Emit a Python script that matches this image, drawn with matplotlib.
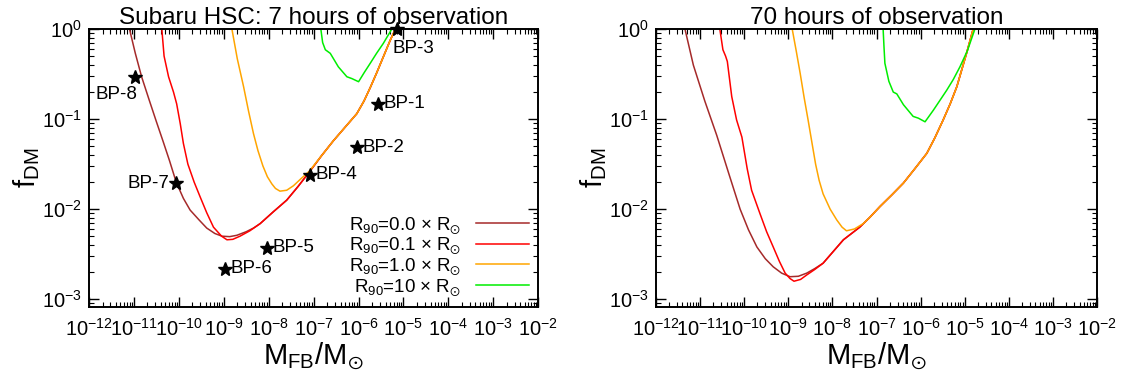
import numpy as np
import matplotlib
matplotlib.use("Agg")
import matplotlib.pyplot as plt
from matplotlib.ticker import FixedLocator, LogLocator, NullFormatter

plt.rcParams['font.family'] = ['Liberation Sans', 'DejaVu Sans']
plt.rcParams['mathtext.default'] = 'regular'

# curves, as log10(M_FB/M_sun) and log10(f_DM)
# --- 7 hours ---
logm7_r00 = [-11.10, -10.97, -10.83, -10.66, -10.50, -10.35, -10.21, -10.06, -9.90, -9.75,
             -9.55, -9.38, -9.20, -9.04, -8.87, -8.71, -8.50, -8.34, -8.19, -7.90, -7.60,
             -7.35, -7.10, -6.83, -6.56, -6.30, -6.04, -5.88, -5.74, -5.60, -5.45, -5.30, -5.18]
logf7_r00 = [0.0, -0.27, -0.53, -0.79, -1.03, -1.25, -1.46, -1.70, -1.88, -2.01,
             -2.12, -2.21, -2.27, -2.30, -2.305, -2.29, -2.25, -2.21, -2.16, -2.03, -1.90,
             -1.75, -1.59, -1.41, -1.24, -1.09, -0.94, -0.80, -0.65, -0.49, -0.31, -0.13, 0.0]

logm7_r01 = [-10.38, -10.33, -10.23, -10.12, -10.05, -9.97, -9.90, -9.80, -9.66, -9.53,
             -9.38, -9.23, -9.05, -8.93, -8.80, -8.64, -8.42, -8.19, -7.90, -7.60,
             -7.35, -7.10, -6.83, -6.56, -6.30, -6.04, -5.88, -5.74, -5.60, -5.45, -5.30, -5.18]
logf7_r01 = [0.0, -0.30, -0.53, -0.70, -0.83, -1.05, -1.27, -1.50, -1.70, -1.86,
             -2.04, -2.20, -2.30, -2.34, -2.335, -2.30, -2.24, -2.16, -2.03, -1.90,
             -1.75, -1.59, -1.41, -1.24, -1.09, -0.94, -0.80, -0.65, -0.49, -0.31, -0.13, 0.0]

logm7_r10 = [-8.82, -8.70, -8.56, -8.45, -8.34, -8.24, -8.13, -8.03, -7.93, -7.85, -7.75,
             -7.60, -7.45, -7.30, -7.10, -6.83, -6.56, -6.30, -6.04, -5.88, -5.74, -5.60,
             -5.45, -5.30, -5.18]
logf7_r10 = [0.0, -0.33, -0.64, -0.91, -1.16, -1.35, -1.52, -1.64, -1.72, -1.77, -1.80,
             -1.79, -1.74, -1.67, -1.58, -1.41, -1.24, -1.09, -0.94, -0.80, -0.65, -0.49,
             -0.31, -0.13, 0.0]

logm7_r100 = [-6.84, -6.80, -6.74, -6.63, -6.45, -6.26, -6.15, -6.00, -5.87, -5.74, -5.60, -5.45, -5.26]
logf7_r100 = [0.0, -0.15, -0.23, -0.27, -0.42, -0.53, -0.55, -0.585, -0.48, -0.38, -0.27, -0.16, 0.0]

# --- 70 hours ---
logm70_r00 = [-11.34, -11.15, -10.89, -10.62, -10.35, -10.09, -9.90, -9.71, -9.52, -9.34,
              -9.15, -8.96, -8.77, -8.58, -8.40, -8.21, -7.98, -7.75, -7.38, -7.15, -6.92,
              -6.65, -6.39, -6.13, -5.86, -5.68, -5.49, -5.33, -5.18, -4.96, -4.81]
logf70_r00 = [0.0, -0.40, -0.80, -1.18, -1.60, -2.00, -2.23, -2.42, -2.55, -2.64,
              -2.71, -2.75, -2.745, -2.71, -2.66, -2.60, -2.47, -2.34, -2.20, -2.09, -1.97,
              -1.84, -1.71, -1.55, -1.38, -1.21, -1.01, -0.83, -0.64, -0.27, 0.0]

logm70_r01 = [-10.55, -10.48, -10.42, -10.38, -10.28, -10.17, -10.05, -9.93, -9.83, -9.64,
              -9.49, -9.34, -9.20, -9.07, -8.96, -8.87, -8.72, -8.58, -8.40, -8.21, -7.98,
              -7.75, -7.38, -7.15, -6.92, -6.65, -6.39, -6.13, -5.86, -5.68, -5.49, -5.33,
              -5.18, -4.96, -4.81]
logf70_r01 = [0.0, -0.23, -0.30, -0.36, -0.75, -1.01, -1.20, -1.55, -1.79, -2.05,
              -2.25, -2.42, -2.58, -2.71, -2.77, -2.80, -2.78, -2.73, -2.67, -2.60, -2.47,
              -2.34, -2.20, -2.09, -1.97, -1.84, -1.71, -1.55, -1.38, -1.21, -1.01, -0.83,
              -0.64, -0.27, 0.0]

logm70_r10 = [-8.91, -8.82, -8.73, -8.64, -8.55, -8.46, -8.38, -8.30, -8.21, -8.05, -7.90,
              -7.78, -7.68, -7.50, -7.30, -7.15, -6.92, -6.65, -6.39, -6.13, -5.86, -5.68,
              -5.49, -5.33, -5.18, -4.96, -4.81]
logf70_r10 = [0.0, -0.24, -0.49, -0.76, -1.01, -1.27, -1.50, -1.68, -1.83, -2.00, -2.12,
              -2.20, -2.24, -2.22, -2.16, -2.09, -1.97, -1.84, -1.71, -1.55, -1.38, -1.21,
              -1.01, -0.83, -0.64, -0.27, 0.0]

logm70_r100 = [-6.85, -6.83, -6.81, -6.72, -6.62, -6.54, -6.39, -6.17, -6.05, -5.90, -5.71,
               -5.56, -5.41, -5.26, -5.11, -4.94, -4.77]
logf70_r100 = [0.0, -0.20, -0.38, -0.58, -0.70, -0.72, -0.84, -0.97, -0.99, -1.03, -0.90,
               -0.79, -0.68, -0.56, -0.42, -0.24, 0.0]

# benchmark points
bp_names = ['BP-1', 'BP-2', 'BP-3', 'BP-4', 'BP-5', 'BP-6', 'BP-7', 'BP-8']
bp_logm = [-5.56, -6.04, -5.15, -7.09, -8.04, -8.97, -10.06, -10.98]
bp_logf = [-0.83, -1.31, 0.0, -1.62, -2.43, -2.66, -1.71, -0.537]

labels = [r'$R_{90}$=0.0 $\times$ $R_{\odot}$', r'$R_{90}$=0.1 $\times$ $R_{\odot}$',
          r'$R_{90}$=1.0 $\times$ $R_{\odot}$', r'$R_{90}$=10 $\times$ $R_{\odot}$']
colors = ['#a52a2a', '#ff0000', '#ffa500', '#00ee00']

fig = plt.figure(figsize=(11.23, 3.85), dpi=100)
ax1 = fig.add_axes([0.0793, 0.2026, 0.400, 0.722])
ax2 = fig.add_axes([0.5840, 0.2026, 0.393, 0.722])

panels = [
    (ax1, [(logm7_r00, logf7_r00), (logm7_r01, logf7_r01), (logm7_r10, logf7_r10), (logm7_r100, logf7_r100)],
     'Subaru HSC: 7 hours of observation'),
    (ax2, [(logm70_r00, logf70_r00), (logm70_r01, logf70_r01), (logm70_r10, logf70_r10), (logm70_r100, logf70_r100)],
     '70 hours of observation'),
]

xdec = list(range(-12, -1))
ydec = [-3, -2, -1, 0]
for ax, curves, title in panels:
    for (lm, lf), c, lab in zip(curves, colors, labels):
        ax.plot(np.power(10.0, lm), np.power(10.0, lf), color=c, lw=1.1, label=lab)
    ax.set_xscale('log')
    ax.set_yscale('log')
    ax.set_xlim(1e-12, 1e-2)
    ax.set_ylim(8.2e-4, 1.0)
    ax.xaxis.set_major_locator(FixedLocator([10.0 ** k for k in xdec]))
    ax.set_xticklabels([r'$10^{%d}$' % k for k in xdec])
    ax.yaxis.set_major_locator(FixedLocator([10.0 ** k for k in ydec]))
    ax.set_yticklabels([r'$10^{%d}$' % k for k in ydec])
    ax.xaxis.set_minor_locator(LogLocator(base=10, subs=range(2, 10), numticks=100))
    ax.yaxis.set_minor_locator(LogLocator(base=10, subs=range(2, 10), numticks=100))
    ax.xaxis.set_minor_formatter(NullFormatter())
    ax.yaxis.set_minor_formatter(NullFormatter())
    ax.tick_params(which='both', direction='in', top=True, right=True, labelsize=14.5)
    ax.tick_params(which='major', length=7, width=1.0, pad=8)
    ax.tick_params(which='major', axis='y', pad=5)
    ax.tick_params(which='minor', length=3.5, width=0.8)
    for s in ax.spines.values():
        s.set_linewidth(1.4)
    ax.set_title(title, fontsize=17.5, pad=2)
    ax.set_xlabel(r'$M_{FB}/M_{\odot}$', fontsize=21, labelpad=0)
    ax.set_ylabel(r'$f_{DM}$', fontsize=21, labelpad=0)

# benchmark stars (left panel)
ax1.plot(np.power(10.0, bp_logm), np.power(10.0, bp_logf), ls='none', marker='*',
         color='black', ms=10.5, clip_on=False, zorder=5)
offsets = {'BP-1': (4, 0, 'left', 'center'), 'BP-2': (4, 0, 'left', 'center'),
           'BP-3': (-3, -8, 'left', 'top'), 'BP-4': (4, 0, 'left', 'center'),
           'BP-5': (4, 0, 'left', 'center'), 'BP-6': (4, 0, 'left', 'center'),
           'BP-7': (-5, 0, 'right', 'center'), 'BP-8': (2, -6, 'right', 'top')}
for name, lm, lf in zip(bp_names, bp_logm, bp_logf):
    dx, dy, ha, va = offsets[name]
    ax1.annotate(name, (10.0 ** lm, 10.0 ** lf), xytext=(dx, dy), textcoords='offset points',
                 ha=ha, va=va, fontsize=13.5)

ax1.legend(loc='lower right', frameon=False, markerfirst=False, fontsize=13.5,
           handlelength=2.8, labelspacing=0.0, borderaxespad=0.1, handletextpad=0.8)

fig.savefig('out.png', dpi=100)
